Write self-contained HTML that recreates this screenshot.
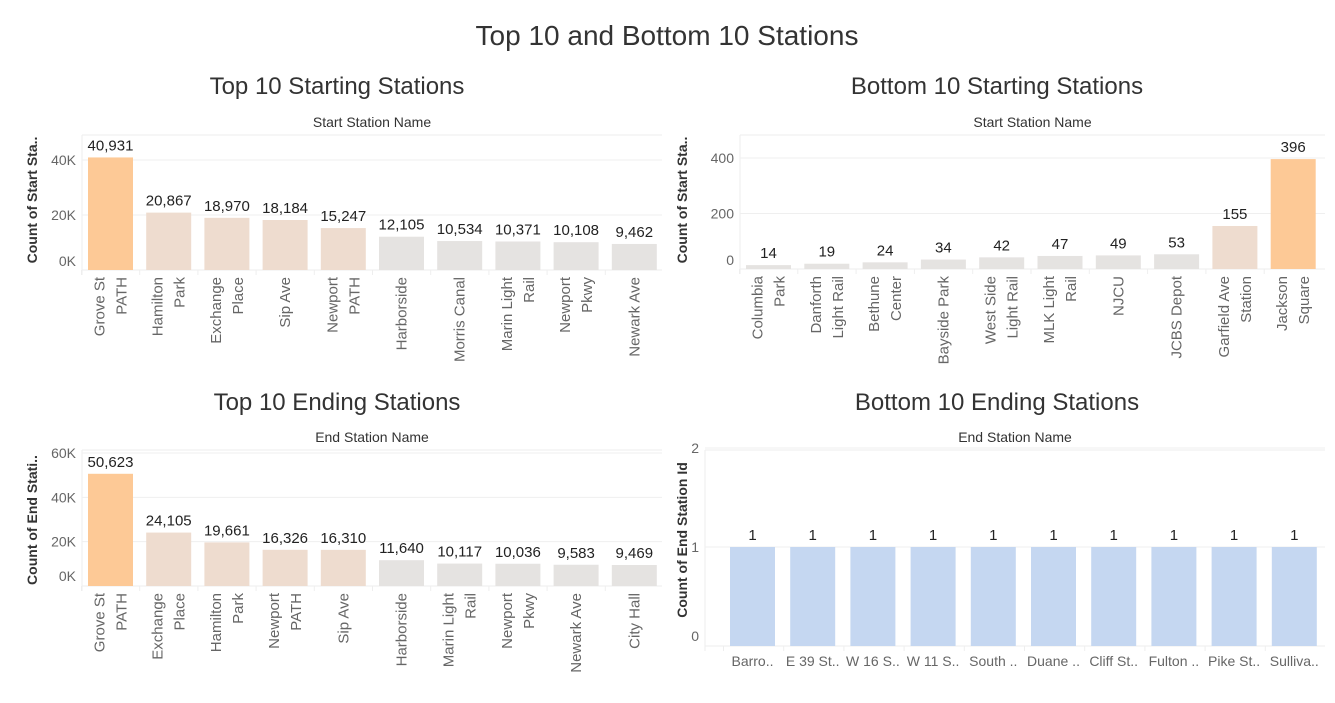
<!DOCTYPE html>
<html><head><meta charset="utf-8"><style>
body{margin:0;background:#fff;font-family:"Liberation Sans",sans-serif;}
svg text{font-family:"Liberation Sans",sans-serif;}
</style></head><body>
<svg id="s" width="1335" height="698" xmlns="http://www.w3.org/2000/svg">
<text x="667" y="45" text-anchor="middle" font-size="28" fill="#333">Top 10 and Bottom 10 Stations</text>
<text x="337" y="94" text-anchor="middle" font-size="24" fill="#333">Top 10 Starting Stations</text>
<text x="997" y="94" text-anchor="middle" font-size="24" fill="#333">Bottom 10 Starting Stations</text>
<text x="337" y="410" text-anchor="middle" font-size="24" fill="#333">Top 10 Ending Stations</text>
<text x="997" y="410" text-anchor="middle" font-size="24" fill="#333">Bottom 10 Ending Stations</text>
</svg>
<script>
const c1Cats=[["Grove St","PATH"],["Hamilton","Park"],["Exchange","Place"],["Sip Ave"],["Newport","PATH"],["Harborside"],["Morris Canal"],["Marin Light","Rail"],["Newport","Pkwy"],["Newark Ave"]];
const c1Vals=[40931,20867,18970,18184,15247,12105,10534,10371,10108,9462];
const c1Ticks=[0,20000,40000];
const c1TickLabels=["0K","20K","40K"];
const c2Cats=[["Columbia","Park"],["Danforth","Light Rail"],["Bethune","Center"],["Bayside Park"],["West Side","Light Rail"],["MLK Light","Rail"],["NJCU"],["JCBS Depot"],["Garfield Ave","Station"],["Jackson","Square"]];
const c2Vals=[14,19,24,34,42,47,49,53,155,396];
const c2Ticks=[0,200,400];
const c2TickLabels=["0","200","400"];
const c3Cats=[["Grove St","PATH"],["Exchange","Place"],["Hamilton","Park"],["Newport","PATH"],["Sip Ave"],["Harborside"],["Marin Light","Rail"],["Newport","Pkwy"],["Newark Ave"],["City Hall"]];
const c3Vals=[50623,24105,19661,16326,16310,11640,10117,10036,9583,9469];
const c3Ticks=[0,20000,40000,60000];
const c3TickLabels=["0K","20K","40K","60K"];
const c4Cats=["Barro..","E 39 St..","W 16 S..","W 11 S..","South ..","Duane ..","Cliff St..","Fulton ..","Pike St..","Sulliva.."];
const c4Vals=[1,1,1,1,1,1,1,1,1,1];
const c4Ticks=[0,1,2];
const c4TickLabels=["0","1","2"];

const svg=document.getElementById('s');
const NS="http://www.w3.org/2000/svg";
function mk(tag,attrs,parent){const e=document.createElementNS(NS,tag);for(const k in attrs)e.setAttribute(k,attrs[k]);(parent||svg).appendChild(e);return e;}
function fmt(v){return v.toLocaleString('en-US');}
function chart(o){
  const g=mk('g',{});
  
  
  const y=v=>o.y0-(v/o.vmax)*(o.y0-o.yTop);
  const x=i=>o.x0+o.step*i;
  const mx=Math.max(...o.vals);
  // header
  const h=mk('text',{x:(o.left+o.right)/2,y:o.headY,'text-anchor':'middle','font-size':14,fill:'#333'},g);
  h.textContent=o.header;
  
  
  mk('line',{x1:o.left,x2:o.right,y1:o.headY+8,y2:o.headY+8,stroke:'#eee'},g);
  mk('line',{x1:o.left,x2:o.left,y1:o.headY+8,y2:o.y0+5,stroke:'#eee'},g);
  o.ticks.forEach((t,i)=>{
    mk('line',{x1:o.left,x2:o.right,y1:y(t),y2:y(t),stroke:'#efefef'},g);
    const tl=mk('text',{x:o.left-6,y:y(t)+5-(t===0?o.zeroShift:0),'text-anchor':'end','font-size':14,fill:'#666'},g);
    tl.textContent=o.tickLabels[i];
    
    
  });
  mk('line',{x1:o.left,x2:o.right,y1:o.y0,y2:o.y0,stroke:'#eee'},g);
  const yt=mk('text',{x:0,y:0,'text-anchor':'middle','font-size':14,'font-weight':'bold',fill:'#333',transform:`translate(${o.ytX},${o.ytY}) rotate(-90)`},g);
  yt.textContent=o.ytitle;
  
  
  o.vals.forEach((v,i)=>{
    let col=o.color||(v/mx>0.9?'#fdc996':(v/mx>0.3?'#eedccf':'#e5e3e1'));
    const r=mk('rect',{x:x(i),y:y(v),width:o.bw,height:o.y0-y(v),fill:col},g);
    
    
    const vl=mk('text',{x:x(i)+o.bw/2,y:y(v)-7,'text-anchor':'middle','font-size':15,fill:'#222'},g);
    vl.textContent=fmt(v);
    
    
    mk('line',{x1:x(i)-6.5,x2:x(i)-6.5,y1:o.y0,y2:o.y0+5,stroke:'#eee'},g);
    const cat=o.cats[i];
    if(o.rot){
      const lines=Array.isArray(cat)?cat:[cat];
      const cx=x(i)+o.bw/2;
      lines.forEach((ln,j)=>{
        const off=(j-(lines.length-1)/2)*22;
        const t=mk('text',{x:0,y:0,'text-anchor':'end','font-size':15,fill:'#666',transform:`translate(${cx+off+5},${o.y0+7}) rotate(-90)`},g);
        t.textContent=ln;
        
        
      });
    } else {
      const t=mk('text',{x:x(i)+o.bw/2,y:o.y0+20,'text-anchor':'middle','font-size':14,fill:'#666'},g);
      t.textContent=cat;
      
      
    }
  });
}
chart({name:'top-start-chart',cats:c1Cats,vals:c1Vals,ticks:c1Ticks,tickLabels:c1TickLabels,vmax:40000,y0:270,yTop:160,x0:88,step:58.2,bw:45,left:82,right:662,headY:127,header:'Start Station Name',ytitle:'Count of Start Sta..',ytX:37,ytY:200,rot:true,zeroShift:9});
chart({name:'bottom-start-chart',cats:c2Cats,vals:c2Vals,ticks:c2Ticks,tickLabels:c2TickLabels,vmax:400,y0:269,yTop:158,x0:746,step:58.3,bw:45,left:740,right:1325,headY:127,header:'Start Station Name',ytitle:'Count of Start Sta..',ytX:687,ytY:200,rot:true,zeroShift:9});
chart({name:'top-end-chart',cats:c3Cats,vals:c3Vals,ticks:c3Ticks,tickLabels:c3TickLabels,vmax:60000,y0:586,yTop:453,x0:88,step:58.2,bw:45,left:82,right:662,headY:442,header:'End Station Name',ytitle:'Count of End Stati..',ytX:37,ytY:520,rot:true,zeroShift:10});
chart({name:'bottom-end-chart',cats:c4Cats,vals:c4Vals,ticks:c4Ticks,tickLabels:c4TickLabels,vmax:2,y0:646,yTop:448,x0:730,step:60.2,bw:45,left:705,right:1325,headY:442,header:'End Station Name',ytitle:'Count of End Station Id',ytX:687,ytY:540,rot:false,color:'#c5d7f1',zeroShift:10});
</script>
</body></html>
